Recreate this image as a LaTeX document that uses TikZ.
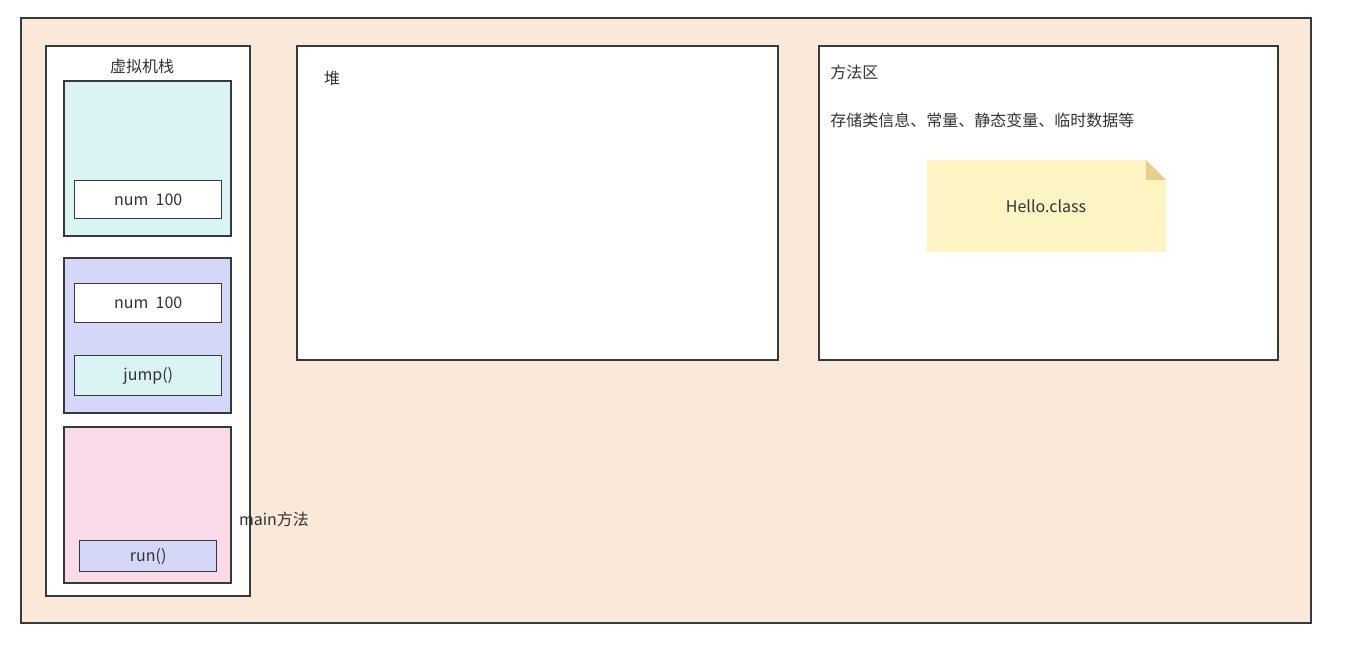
\documentclass[tikz,border=0pt]{standalone}
\usepackage{fontspec}
\setmainfont{Noto Sans CJK SC}
\usetikzlibrary{positioning}
\definecolor{bgc}{HTML}{FAE8D8}
\definecolor{linec}{HTML}{36393D}
\definecolor{cyanf}{HTML}{DAF3F3}
\definecolor{lavf}{HTML}{D4D7F7}
\definecolor{pinkf}{HTML}{F9DBEA}
\definecolor{notef}{HTML}{FFF4C3}
\definecolor{foldf}{HTML}{E8D08A}
\definecolor{txt}{HTML}{333333}
\tikzset{
  box/.style={draw=linec, line width=1.1pt},
  lbl/.style={text=txt, font=\fontsize{12pt}{14pt}\selectfont, inner sep=0pt},
}
\begin{document}
\begin{tikzpicture}[x=0.75pt,y=-0.75pt]
\useasboundingbox (0,0) rectangle (1350,645);
% outer
\draw[box, fill=bgc] (21,18) rectangle (1311,623);
% stack
\draw[box, fill=white] (46,46) rectangle (250,596);
\node[lbl] (stacktitle) at (142,66) {虚拟机栈};
\draw[box, fill=cyanf] (64,81) rectangle (231,236);
\node[box, fill=white, minimum width=147*0.75pt, minimum height=38*0.75pt, anchor=north west, lbl] (num1) at (74,180) {num\ \ 100};
\draw[box, fill=lavf] (64,258) rectangle (231,413);
\node[box, fill=white, minimum width=147*0.75pt, minimum height=39*0.75pt, anchor=north west, lbl] (num2) at (74,283) {num\ \ 100};
\node[box, fill=cyanf, minimum width=147*0.75pt, minimum height=40*0.75pt, anchor=north west, lbl] (jump) at (74,355) {jump()};
\draw[box, fill=pinkf] (64,427) rectangle (231,583);
\node[box, fill=lavf, minimum width=137*0.75pt, minimum height=31*0.75pt, anchor=north west, lbl] (run) at (79,540) {run()};
\node[lbl] (mainm) at (274,519) {main方法};
% heap
\draw[box, fill=white] (297,46) rectangle (778,360);
\node[lbl] (heap) at (332,78) {堆};
% method area
\draw[box, fill=white] (819,46) rectangle (1278,360);
\node[lbl, anchor=west] (ma) at (830,72) {方法区};
\node[lbl, anchor=west] (madesc) at (830,120) {存储类信息、常量、静态变量、临时数据等};
% note
\fill[notef] (927,160) -- (1146,160) -- (1166,180) -- (1166,252) -- (927,252) -- cycle;
\fill[foldf] (1146,160) -- (1166,180) -- (1146,180) -- cycle;
\node[lbl] (hello) at (1046,206) {Hello.class};
\end{tikzpicture}
\end{document}
